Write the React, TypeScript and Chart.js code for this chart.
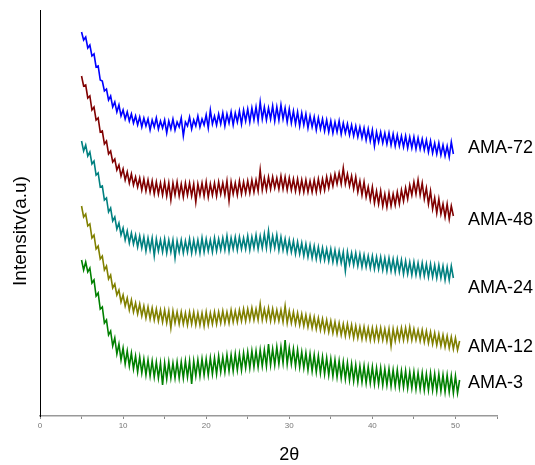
import React, { useEffect, useRef } from "react";
import { Chart, registerables } from "chart.js";

Chart.register(...registerables);

// 2θ grid of the scans
const twoThetaStart = 5;
const twoThetaStep = 0.25;

// x-axis tick labels
const xTickLabels = ["0", "10", "20", "30", "40", "50"];

const seriesNames = ["AMA-72", "AMA-48", "AMA-24", "AMA-12", "AMA-3"];

// intensities (a.u.), offset-stacked as in the figure
const ama72 = [
  384, 376, 379, 368, 371, 360, 362, 349, 350, 336, 335, 325, 327, 316, 320, 309,
  314, 304, 311, 300, 306, 297, 304, 295, 302, 293, 300, 291, 299, 289, 298, 290,
  297, 286, 296, 289, 298, 287, 295, 288, 296, 283, 295, 287, 297, 286, 294, 289,
  298, 280, 294, 290, 299, 287, 296, 290, 300, 289, 297, 291, 301, 288, 306, 292,
  300, 291, 302, 292, 303, 290, 302, 293, 304, 291, 303, 294, 305, 292, 306, 295,
  307, 294, 308, 296, 309, 295, 314, 297, 309, 296, 308, 297, 310, 295, 309, 296,
  311, 297, 308, 294, 307, 293, 305, 292, 304, 290, 303, 291, 302, 288, 300, 289,
  299, 286, 298, 287, 297, 285, 296, 284, 295, 283, 294, 284, 295, 282, 293, 283,
  292, 281, 291, 280, 290, 279, 289, 278, 288, 276, 287, 275, 286, 270, 284, 274,
  284, 273, 283, 272, 283, 271, 282, 270, 281, 270, 280, 269, 280, 268, 279, 268,
  279, 267, 278, 267, 277, 266, 276, 264, 275, 263, 273, 262, 273, 261, 271, 260,
  270, 259, 274, 262,
];

const ama48 = [
  340, 330, 331, 318, 320, 306, 309, 296, 298, 284, 285, 272, 275, 262, 265, 254,
  257, 246, 251, 240, 247, 236, 244, 233, 242, 231, 239, 229, 238, 226, 237, 225,
  236, 224, 235, 222, 234, 222, 233, 221, 234, 220, 233, 216, 233, 221, 234, 220,
  232, 219, 233, 221, 233, 220, 232, 214, 232, 221, 233, 220, 234, 219, 232, 221,
  233, 220, 234, 222, 233, 221, 235, 215, 234, 222, 233, 221, 235, 222, 234, 223,
  235, 223, 236, 224, 236, 225, 246, 226, 238, 226, 239, 227, 239, 228, 238, 227,
  240, 227, 239, 226, 238, 226, 237, 225, 237, 224, 236, 224, 236, 224, 235, 224,
  236, 224, 237, 225, 237, 226, 239, 228, 240, 230, 242, 232, 243, 232, 248, 232,
  242, 230, 240, 227, 239, 224, 235, 221, 234, 219, 229, 216, 229, 213, 225, 212,
  225, 210, 222, 209, 223, 210, 222, 211, 224, 212, 226, 215, 228, 217, 231, 221,
  234, 222, 236, 221, 233, 217, 228, 212, 225, 207, 218, 203, 217, 202, 212, 199,
  212, 197, 210, 200,
];

const ama24 = [
  275, 265, 271, 260, 264, 252, 255, 241, 243, 229, 230, 216, 218, 204, 208, 195,
  199, 187, 193, 181, 188, 176, 185, 173, 183, 172, 181, 169, 180, 168, 179, 165,
  178, 166, 178, 160, 177, 165, 176, 164, 177, 163, 176, 164, 176, 158, 175, 164,
  176, 163, 175, 164, 177, 163, 176, 164, 176, 163, 178, 164, 177, 165, 176, 164,
  178, 165, 177, 166, 178, 166, 180, 165, 178, 167, 179, 166, 179, 167, 178, 167,
  180, 166, 179, 168, 181, 167, 180, 168, 182, 168, 185, 167, 180, 168, 181, 166,
  179, 166, 177, 164, 176, 164, 175, 162, 174, 162, 173, 160, 172, 159, 171, 158,
  170, 157, 169, 156, 168, 156, 167, 155, 167, 154, 166, 153, 165, 153, 164, 145,
  164, 152, 163, 151, 163, 150, 162, 149, 161, 149, 160, 148, 160, 147, 159, 147,
  159, 146, 158, 145, 158, 145, 157, 144, 157, 144, 156, 142, 155, 142, 154, 141,
  154, 141, 153, 140, 153, 140, 152, 139, 152, 139, 151, 138, 151, 138, 150, 136,
  149, 136, 150, 138,
];

const ama12 = [
  210, 199, 202, 190, 192, 178, 181, 167, 170, 157, 160, 146, 150, 137, 141, 128,
  132, 121, 126, 114, 121, 110, 118, 106, 116, 104, 113, 102, 112, 100, 110, 98,
  109, 97, 108, 96, 107, 95, 106, 94, 106, 93, 105, 88, 105, 93, 104, 92,
  104, 92, 103, 91, 104, 92, 104, 91, 103, 91, 103, 90, 104, 91, 103, 92,
  104, 92, 104, 93, 105, 93, 104, 93, 106, 94, 105, 94, 106, 95, 107, 95,
  107, 96, 108, 96, 107, 96, 112, 96, 107, 96, 108, 95, 107, 95, 106, 95,
  106, 94, 110, 93, 105, 93, 104, 92, 103, 91, 102, 90, 101, 89, 100, 88,
  99, 87, 98, 86, 97, 85, 96, 84, 95, 83, 94, 82, 93, 81, 92, 80,
  92, 80, 91, 78, 90, 78, 89, 77, 89, 77, 88, 76, 88, 76, 88, 76,
  88, 76, 87, 75, 87, 70, 87, 75, 87, 76, 88, 76, 88, 76, 89, 76,
  87, 76, 86, 75, 86, 74, 85, 73, 84, 72, 83, 71, 82, 70, 81, 69,
  80, 68, 79, 67, 78, 66, 75,
];

const ama3 = [
  156, 146, 154, 144, 148, 133, 136, 120, 123, 107, 109, 93, 96, 81, 85, 70,
  78, 62, 72, 56, 68, 52, 65, 50, 63, 47, 60, 44, 59, 43, 57, 41,
  56, 40, 55, 39, 54, 38, 53, 31, 53, 37, 54, 38, 53, 38, 54, 38,
  54, 38, 55, 39, 55, 32, 55, 40, 56, 40, 57, 41, 57, 41, 58, 42,
  58, 42, 60, 44, 59, 44, 61, 45, 61, 45, 62, 46, 62, 46, 63, 48,
  64, 48, 65, 49, 65, 49, 66, 50, 66, 50, 72, 51, 67, 51, 69, 52,
  69, 53, 76, 52, 68, 52, 67, 50, 66, 49, 64, 48, 63, 46, 62, 45,
  61, 44, 60, 43, 59, 42, 58, 41, 57, 40, 56, 39, 55, 38, 54, 37,
  53, 36, 52, 35, 51, 34, 50, 34, 50, 33, 49, 33, 49, 32, 48, 32,
  48, 31, 47, 31, 47, 30, 46, 30, 46, 29, 45, 29, 45, 28, 44, 28,
  44, 27, 43, 27, 43, 26, 42, 26, 43, 26, 42, 25, 42, 25, 41, 24,
  41, 24, 40, 23, 40, 23, 36,
];

const seriesValues = [ama72, ama48, ama24, ama12, ama3];
const seriesColors = ["#0000ff", "#800000", "#008080", "#808000", "#008000"];

const FONT = '"Liberation Sans", Arial, Helvetica, sans-serif';

export default function App() {
  const canvasRef = useRef<HTMLCanvasElement | null>(null);

  useEffect(() => {
    const canvas = canvasRef.current;
    if (!canvas) return;

    const textPlugin = {
      id: "textPlugin",
      afterDraw(chart: any) {
        const ctx = chart.ctx;
        const xs = chart.scales.x;
        const area = chart.chartArea;
        ctx.save();
        ctx.fillStyle = "#000";
        ctx.font = `18px ${FONT}`;
        ctx.textAlign = "left";
        ctx.textBaseline = "alphabetic";
        const labelBaselines = [153, 225, 293, 352, 388];
        const labelX = xs.getPixelForValue(51.5);
        seriesNames.forEach((name, i) => {
          ctx.fillText(name, labelX, labelBaselines[i]);
        });
        // x title
        ctx.textAlign = "center";
        ctx.fillText("2θ", xs.getPixelForValue(30), 460);
        // y title
        ctx.translate(26, (area.top + area.bottom) / 2 + 18);
        ctx.rotate(-Math.PI / 2);
        ctx.font = `19px ${FONT}`;
        ctx.fillText("Intensitv(a.u)", 0, 0);
        ctx.restore();
      },
    };

    const chart = new Chart(canvas, {
      type: "line",
      data: {
        datasets: seriesValues.map((vals, i) => ({
          label: seriesNames[i],
          data: vals.map((v, j) => ({ x: twoThetaStart + j * twoThetaStep, y: v })),
          borderColor: seriesColors[i],
          borderWidth: 1.6,
          pointRadius: 0,
          tension: 0,
          fill: false,
        })),
      },
      options: {
        responsive: false,
        animation: false,
        devicePixelRatio: 1,
        layout: { padding: { left: 40, right: 38, top: 10, bottom: 0 } },
        plugins: {
          legend: { display: false },
          tooltip: { enabled: false },
          title: { display: false },
        },
        scales: {
          x: {
            type: "linear",
            min: 0,
            max: 55,
            afterFit: (s: any) => {
              s.height = 49;
            },
            border: { display: true, color: "#999", width: 1.5 },
            grid: {
              display: true,
              drawOnChartArea: false,
              drawTicks: true,
              tickLength: 3,
              color: "#888",
            },
            ticks: {
              stepSize: 5,
              autoSkip: false,
              maxRotation: 0,
              padding: 2,
              color: "#777",
              font: { size: 8, family: FONT },
              callback: (v: any) => (xTickLabels.includes(String(v)) ? String(v) : ""),
            },
          },
          y: {
            type: "linear",
            min: 0,
            max: 406,
            afterFit: (s: any) => {
              s.width = 0;
            },
            border: { display: true, color: "#000", width: 1 },
            grid: { display: false },
            ticks: { display: false },
          },
        },
      },
      plugins: [textPlugin],
    });

    return () => {
      chart.destroy();
    };
  }, []);

  return (
    <div style={{ position: "absolute", left: 0, top: 0, width: 535, height: 465, background: "#fff" }}>
      <canvas ref={canvasRef} width={535} height={465} style={{ display: "block" }} />
    </div>
  );
}
